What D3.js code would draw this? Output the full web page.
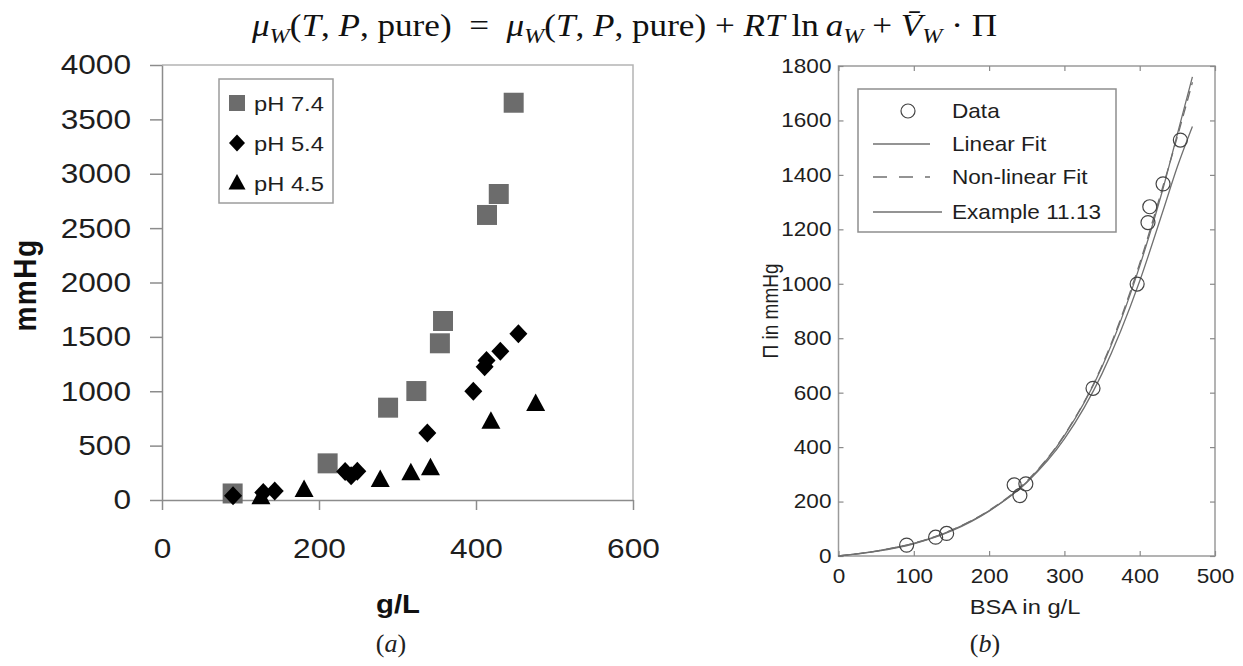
<!DOCTYPE html>
<html>
<head>
<meta charset="utf-8">
<script src="https://cdn.jsdelivr.net/npm/d3@7"></script>
<style>
  body { margin: 0; background: #fff; }
  svg { display: block; }
</style>
</head>
<body>
<svg id="chart" width="1243" height="666"></svg>
<script>
// ---- Panel (a): osmotic pressure of BSA solutions at three pH values ----
const ph74X = [90, 211, 288, 324, 354, 358, 414, 429, 448];
const ph74Y = [60, 337, 849, 1002, 1441, 1646, 2621, 2814, 3653];
// pH 5.4 measurements (also the "Data" series of panel b)
const ph54X = [90.5, 129, 143.6, 233.3, 240.9, 248.8, 338, 396.6, 411, 413.4, 431, 454];
const ph54Y = [40, 69, 83, 261, 222, 265, 616, 999, 1225, 1283, 1367, 1528];
const ph45X = [126, 181, 278, 317, 342, 419, 476];
const ph45Y = [25, 92, 184, 245, 291, 720, 883];

const seriesNamesA = ["pH 7.4", "pH 5.4", "pH 4.5"];
const xTicksA = [0, 200, 400, 600];
const yTicksA = [0, 500, 1000, 1500, 2000, 2500, 3000, 3500, 4000];

// ---- Panel (b): fitted curves through the pH 5.4 data ----
const fitX = [0, 50, 100, 150, 200, 250, 300, 350, 400, 430, 450, 470];
const linearFitY = [0, 17, 45, 92, 165, 270, 430, 670, 1010, 1260, 1430, 1578];
const nonlinFitY = [0, 18, 47, 95, 168, 275, 445, 700, 1075, 1350, 1540, 1740];
const exampleFitY = [0, 18, 46, 94, 166, 272, 442, 695, 1065, 1340, 1550, 1760];

const seriesNamesB = ["Data", "Linear Fit", "Non-linear Fit", "Example 11.13"];
const xTicksB = [0, 100, 200, 300, 400, 500];
const yTicksB = [0, 200, 400, 600, 800, 1000, 1200, 1400, 1600, 1800];

const S = 1.13; // horizontal stretch applied to glyphs
const sans = '"Liberation Sans", Arial, Helvetica, sans-serif';
const serif = '"Liberation Serif", "Times New Roman", serif';
const svg = d3.select("#chart");

// text helper: glyphs are stretched horizontally around the anchor point
function label(x, y, txt, o = {}) {
  const g = svg.append("g")
    .attr("transform", o.rotate
      ? `translate(${x},${y}) rotate(-90) scale(1,${S})`
      : `translate(${x},${y}) scale(${S},1)`);
  const t = g.append("text")
    .attr("font-family", o.family || sans)
    .attr("font-size", o.size || 20)
    .attr("font-weight", o.weight || "normal")
    .attr("text-anchor", o.anchor || "start")
    .attr("fill", o.fill || "#1e1e1e")
    .text(txt);
  if (o.spacing) t.attr("letter-spacing", o.spacing);
  return t;
}

function stretchTicks(g) {
  g.selectAll(".tick text").each(function () {
    const t = d3.select(this);
    const x = +t.attr("x") || 0;
    t.attr("x", x / S).attr("transform", `scale(${S},1)`);
  });
}

// ---- title equation ----
const title = svg.append("text")
  .attr("x", 252).attr("y", 36)
  .attr("font-family", serif).attr("font-size", 32)
  .attr("fill", "#111")
  .attr("textLength", 745).attr("lengthAdjust", "spacingAndGlyphs")
  .style("white-space", "pre");
const titleParts = [
  ["μ", 1], ["W", 1, 1], ["(", 0], ["T", 1], [", ", 0], ["P", 1], [", pure)  =  ", 0],
  ["μ", 1], ["W", 1, 1], ["(", 0], ["T", 1], [", ", 0], ["P", 1], [", pure) + ", 0],
  ["RT", 1], ["\u2009ln\u2009", 0], ["a", 1], ["W", 1, 1], [" + ", 0],
  ["V\u0304", 1], ["W", 1, 1], [" · Π", 0]
];
let shifted = false;
titleParts.forEach(([s, it, sub]) => {
  const ts = title.append("tspan").text(s)
    .attr("font-style", it ? "italic" : "normal");
  if (sub) { ts.attr("font-size", 22).attr("dy", 7); shifted = true; }
  else if (shifted) { ts.attr("dy", -7); shifted = false; }
});

// =================== Panel (a) ===================
const xa = d3.scaleLinear().domain([0, 600]).range([162, 633]);
const ya = d3.scaleLinear().domain([0, 4000]).range([500, 65]);

// plot frame (top and right)
svg.append("path")
  .attr("d", `M${xa(0)},${ya(4000)}H${xa(600)}V${ya(0)}`)
  .attr("fill", "none").attr("stroke", "#b4b4b4").attr("stroke-width", 1.5);

const gya = svg.append("g").attr("transform", `translate(${xa(0)},0)`)
  .call(d3.axisLeft(ya).tickValues(yTicksA).tickSize(12).tickSizeOuter(0)
    .tickPadding(19).tickFormat(d3.format("d")));
const gxa = svg.append("g").attr("transform", `translate(0,${ya(0)})`)
  .call(d3.axisBottom(xa).tickValues(xTicksA).tickSize(10).tickSizeOuter(0)
    .tickPadding(28).tickFormat(d3.format("d")));
[gya, gxa].forEach(g => {
  g.attr("font-family", sans).attr("font-size", 28);
  g.select(".domain").attr("stroke", "#8c8c8c").attr("stroke-width", 1.5);
  g.selectAll(".tick line").attr("stroke", "#8c8c8c").attr("stroke-width", 1.5);
  g.selectAll(".tick text").attr("fill", "#1e1e1e");
  stretchTicks(g);
});

const squarePath = "M-10,-10H10V10H-10Z";
const diamondPath = "M0,-9.5L9,0L0,9.5L-9,0Z";
const trianglePath = "M0,-10.5L9.5,7L-9.5,7Z";

const marksA = svg.append("g");
marksA.selectAll(".sq").data(ph74X.map((x, i) => [x, ph74Y[i]])).join("path")
  .attr("d", squarePath).attr("fill", "#6c6c6c")
  .attr("transform", d => `translate(${xa(d[0])},${ya(d[1])})`);
marksA.selectAll(".dm").data(ph54X.map((x, i) => [x, ph54Y[i]])).join("path")
  .attr("d", diamondPath).attr("fill", "#000")
  .attr("transform", d => `translate(${xa(d[0])},${ya(d[1])})`);
marksA.selectAll(".tr").data(ph45X.map((x, i) => [x, ph45Y[i]])).join("path")
  .attr("d", trianglePath).attr("fill", "#000")
  .attr("transform", d => `translate(${xa(d[0])},${ya(d[1])})`);

// legend (a)
svg.append("rect").attr("x", 219).attr("y", 79).attr("width", 114).attr("height", 124)
  .attr("fill", "#fff").attr("stroke", "#9c9c9c").attr("stroke-width", 1.5);
const legA = [
  { name: seriesNamesA[0], d: "M-8,-8H8V8H-8Z", fill: "#6c6c6c" },
  { name: seriesNamesA[1], d: "M0,-8.5L8,0L0,8.5L-8,0Z", fill: "#000" },
  { name: seriesNamesA[2], d: "M0,-9L8.5,6.5L-8.5,6.5Z", fill: "#000" }
];
legA.forEach((e, i) => {
  const cy = 103 + i * 40;
  svg.append("path").attr("d", e.d).attr("fill", e.fill)
    .attr("transform", `translate(237,${cy})`);
  label(254, cy + 7.5, e.name, { size: 21 });
});

// axis titles (a)
label(36, 285, "mmHg", { size: 28, weight: "bold", anchor: "middle", rotate: true, fill: "#111", spacing: 1.5 });
label(398, 613, "g/L", { size: 26, weight: "bold", anchor: "middle", fill: "#111" });
const capA = svg.append("text").attr("x", 391).attr("y", 652)
  .attr("font-family", serif).attr("font-size", 26).attr("text-anchor", "middle").attr("fill", "#222");
capA.append("tspan").text("(");
capA.append("tspan").text("a").attr("font-style", "italic");
capA.append("tspan").text(")");

// =================== Panel (b) ===================
const xb = d3.scaleLinear().domain([0, 500]).range([838.5, 1215]);
const yb = d3.scaleLinear().domain([0, 1800]).range([556, 66]);

svg.append("rect")
  .attr("x", xb(0)).attr("y", yb(1800))
  .attr("width", xb(500) - xb(0)).attr("height", yb(0) - yb(1800))
  .attr("fill", "none").attr("stroke", "#9a9a9a").attr("stroke-width", 1.5);

const axesB = [
  svg.append("g").attr("transform", `translate(0,${yb(0)})`)
    .call(d3.axisBottom(xb).tickValues(xTicksB).tickSize(-5).tickSizeOuter(0)
      .tickPadding(13).tickFormat(d3.format("d"))),
  svg.append("g").attr("transform", `translate(${xb(0)},0)`)
    .call(d3.axisLeft(yb).tickValues(yTicksB).tickSize(-5).tickSizeOuter(0)
      .tickPadding(7).tickFormat(d3.format("d"))),
  svg.append("g").attr("transform", `translate(0,${yb(1800)})`)
    .call(d3.axisTop(xb).tickValues(xTicksB).tickSize(-5).tickSizeOuter(0).tickFormat("")),
  svg.append("g").attr("transform", `translate(${xb(500)},0)`)
    .call(d3.axisRight(yb).tickValues(yTicksB).tickSize(-5).tickSizeOuter(0).tickFormat(""))
];
axesB.forEach(g => {
  g.attr("font-family", sans).attr("font-size", 20);
  g.select(".domain").remove();
  g.selectAll(".tick line").attr("stroke", "#8a8a8a").attr("stroke-width", 1.2);
  g.selectAll(".tick text").attr("fill", "#1e1e1e");
  stretchTicks(g);
});

const line = yArr => d3.line()
  .x((d, i) => xb(fitX[i])).y((d, i) => yb(yArr[i]))
  .curve(d3.curveMonotoneX)(yArr);

svg.append("path").attr("d", line(linearFitY))
  .attr("fill", "none").attr("stroke", "#707070").attr("stroke-width", 1.3);
svg.append("path").attr("d", line(nonlinFitY))
  .attr("fill", "none").attr("stroke", "#707070").attr("stroke-width", 1.3)
  .attr("stroke-dasharray", "10,6");
svg.append("path").attr("d", line(exampleFitY))
  .attr("fill", "none").attr("stroke", "#707070").attr("stroke-width", 1.3);

svg.append("g").selectAll("circle").data(ph54X.map((x, i) => [x, ph54Y[i]])).join("circle")
  .attr("cx", d => xb(d[0])).attr("cy", d => yb(d[1])).attr("r", 7)
  .attr("fill", "none").attr("stroke", "#444").attr("stroke-width", 1.2);

// legend (b)
svg.append("rect").attr("x", 858).attr("y", 89).attr("width", 258).attr("height", 143)
  .attr("fill", "#fff").attr("stroke", "#8e8e8e").attr("stroke-width", 1.5);
const legBy = [111, 144, 177, 212];
svg.append("circle").attr("cx", 908).attr("cy", legBy[0]).attr("r", 7)
  .attr("fill", "none").attr("stroke", "#444").attr("stroke-width", 1.2);
svg.append("line").attr("x1", 873).attr("x2", 930).attr("y1", legBy[1]).attr("y2", legBy[1])
  .attr("stroke", "#707070").attr("stroke-width", 1.3);
svg.append("line").attr("x1", 873).attr("x2", 930).attr("y1", legBy[2]).attr("y2", legBy[2])
  .attr("stroke", "#707070").attr("stroke-width", 1.3).attr("stroke-dasharray", "14,12");
svg.append("line").attr("x1", 873).attr("x2", 942).attr("y1", legBy[3]).attr("y2", legBy[3])
  .attr("stroke", "#707070").attr("stroke-width", 1.3);
seriesNamesB.forEach((n, i) => label(952, legBy[i] + 7, n, { size: 20 }));

// axis titles (b)
label(778, 311, "Π in mmHg", { size: 19, anchor: "middle", rotate: true });
label(1025, 614, "BSA in g/L", { size: 21, anchor: "middle" });
const capB = svg.append("text").attr("x", 985).attr("y", 652)
  .attr("font-family", serif).attr("font-size", 26).attr("text-anchor", "middle").attr("fill", "#222");
capB.append("tspan").text("(");
capB.append("tspan").text("b").attr("font-style", "italic");
capB.append("tspan").text(")");
</script>
</body>
</html>
